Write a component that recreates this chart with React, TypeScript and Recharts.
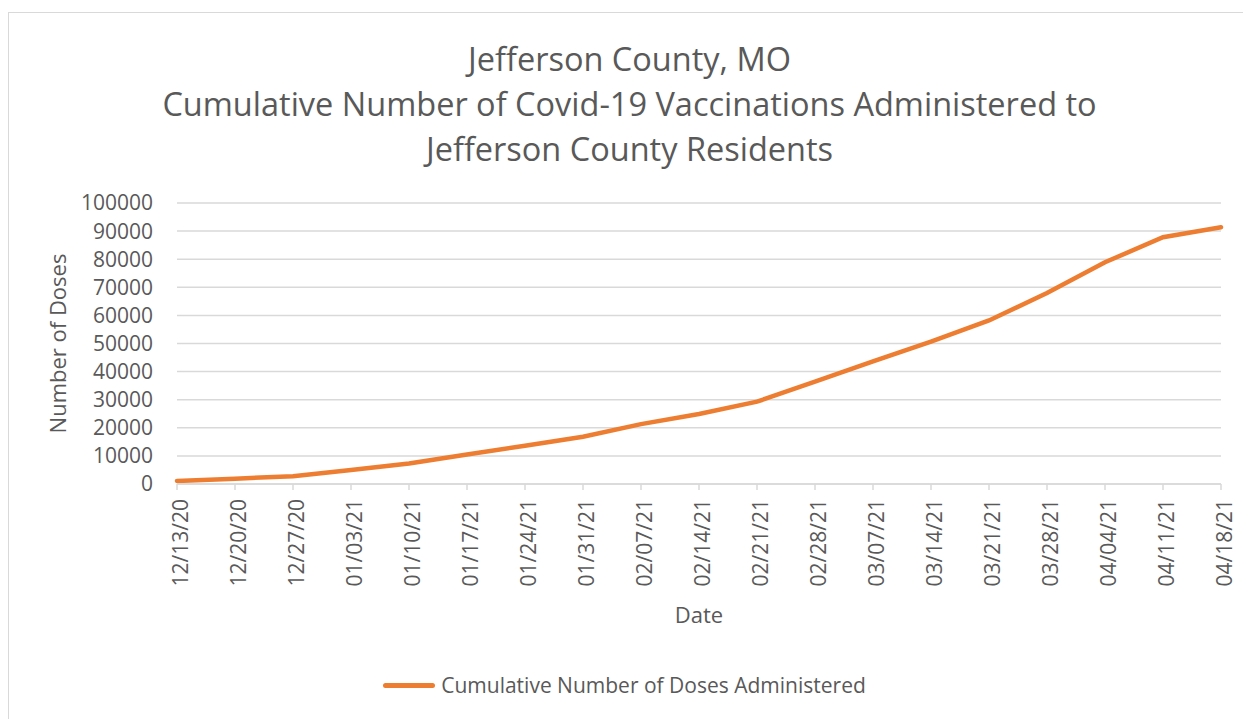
import { LineChart, Line, XAxis, YAxis, CartesianGrid, Legend } from "recharts";

const dates = [
  "12/13/20", "12/20/20", "12/27/20", "01/03/21", "01/10/21", "01/17/21", "01/24/21",
  "01/31/21", "02/07/21", "02/14/21", "02/21/21", "02/28/21", "03/07/21", "03/14/21",
  "03/21/21", "03/28/21", "04/04/21", "04/11/21", "04/18/21",
];

const doses = [
  1100, 1900, 2800, 5000, 7300, 10500, 13600, 16800, 21300, 24900,
  29300, 36400, 43600, 50700, 58200, 68000, 78900, 87800, 91400,
];

const yTicks = [0, 10000, 20000, 30000, 40000, 50000, 60000, 70000, 80000, 90000, 100000];

const titleLines = [
  "Jefferson County, MO",
  "Cumulative Number of Covid-19 Vaccinations Administered to",
  "Jefferson County Residents",
];

const data = dates.map((d, i) => ({ date: d, doses: doses[i] }));

const FONT = "'Open Sans', sans-serif";
const GREY = "#595959";
const ORANGE = "#ED7D31";

function DateTick({ x, y, payload }: any) {
  return (
    <g transform={`translate(${x},${y})`}>
      <text transform="rotate(-90)" textAnchor="end" dy="0.5em" fill={GREY} fontSize={21} fontFamily={FONT}>
        {payload.value}
      </text>
    </g>
  );
}

function LegendBox() {
  return (
    <div style={{ height: 30, display: "flex", alignItems: "center", justifyContent: "center", fontFamily: FONT }}>
      <span style={{ display: "inline-block", width: 52, height: 5, borderRadius: 3, background: ORANGE, marginRight: 6 }} />
      <span style={{ fontSize: 21, color: GREY }}>Cumulative Number of Doses Administered</span>
    </div>
  );
}

export default function App() {
  return (
    <div style={{ position: "relative", width: 1243, height: 712, marginTop: 4, border: "1px solid #d9d9d9", boxSizing: "border-box", background: "#fff", fontFamily: FONT }}>
      {/* title */}
      <div style={{ position: "absolute", top: 23, left: 0, width: "100%", textAlign: "center", color: GREY, fontSize: 32.5, lineHeight: "45px" }}>
        {titleLines.map((t) => (
          <div key={t}>{t}</div>
        ))}
      </div>

      <LineChart width={1241} height={705} data={data} margin={{ top: 190, right: 29, left: 19, bottom: 18 }}>
        <CartesianGrid vertical={false} stroke="#d9d9d9" strokeWidth={1.5} />
        <XAxis
          dataKey="date"
          interval={0}
          height={186}
          tick={<DateTick />}
          tickSize={6}
          tickMargin={9}
          stroke="#d9d9d9"
          strokeWidth={1.5}
          label={{ value: "Date", position: "insideBottom", offset: 47, fill: GREY, fontSize: 22, fontFamily: FONT }}
        />
        <YAxis
          domain={[0, 100000]}
          ticks={yTicks}
          interval={0}
          width={149}
          axisLine={false}
          tickLine={false}
          tickSize={0}
          tickMargin={24}
          tick={{ fill: GREY, fontSize: 21, fontFamily: FONT }}
          label={{ value: "Number of Doses", angle: -90, position: "insideLeft", offset: 30, fill: GREY, fontSize: 22, fontFamily: FONT, style: { textAnchor: "middle" } }}
        />
        <Legend verticalAlign="bottom" content={<LegendBox />} />
        <Line
          type="linear"
          dataKey="doses"
          stroke={ORANGE}
          strokeWidth={4.5}
          dot={false}
          strokeLinecap="round"
          isAnimationActive={false}
        />
      </LineChart>
    </div>
  );
}
